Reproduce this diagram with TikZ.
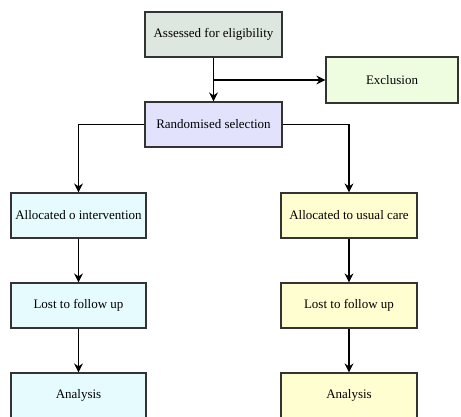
\documentclass[tikz,border=0pt]{standalone}
\usepackage{fontspec}
\setmainfont{Liberation Serif}
\usetikzlibrary{arrows.meta}
\definecolor{cTop}{HTML}{DEE7DF}
\definecolor{cRand}{HTML}{E2E2FD}
\definecolor{cExcl}{HTML}{EEFDE0}
\definecolor{cLeft}{HTML}{E6FBFE}
\definecolor{cRight}{HTML}{FFFED0}
\definecolor{cBorder}{HTML}{333333}
\tikzset{
  box/.style={draw=cBorder, line width=1.2pt, minimum height=45pt, inner sep=0pt, font=\fontsize{13pt}{15pt}\selectfont, text=black},
  conn/.style={line width=1.2pt, -{Stealth[length=9pt,width=9pt]}}
}
\begin{document}
\begin{tikzpicture}[x=1pt,y=-1pt]
\useasboundingbox (0,0) rectangle (461,416);
\begin{scope}
\clip (0,0) rectangle (461,416);
\node[box, fill=cTop, minimum width=137pt] (top) at (213.5,34.5) {Assessed for eligibility};
\node[box, fill=cRand, minimum width=137pt] (rand) at (213.5,124.5) {Randomised selection};
\node[box, fill=cExcl, minimum width=132pt, minimum height=46pt] (excl) at (392,80) {Exclusion};
\node[box, fill=cLeft, minimum width=135pt] (la) at (78.5,215.5) {Allocated o intervention};
\node[box, fill=cLeft, minimum width=135pt] (ll) at (78.5,305.5) {Lost to follow up};
\node[box, fill=cLeft, minimum width=135pt] (lan) at (78.5,395.5) {Analysis};
\node[box, fill=cRight, minimum width=136pt] (ra) at (349,215.5) {Allocated to usual care};
\node[box, fill=cRight, minimum width=136pt] (rl) at (349,305.5) {Lost to follow up};
\node[box, fill=cRight, minimum width=136pt] (ran) at (349,395.5) {Analysis};
\coordinate (split) at (top.south |- excl.west);
\draw[conn] (top) -- (rand);
\draw[conn] (split) -- (excl.west);
\draw[conn] (rand.west) -| (la.north);
\draw[conn] (rand.east) -| (ra.north);
\draw[conn] (la) -- (ll);
\draw[conn] (ll) -- (lan);
\draw[conn] (ra) -- (rl);
\draw[conn] (rl) -- (ran);
\end{scope}
\end{tikzpicture}
\end{document}
